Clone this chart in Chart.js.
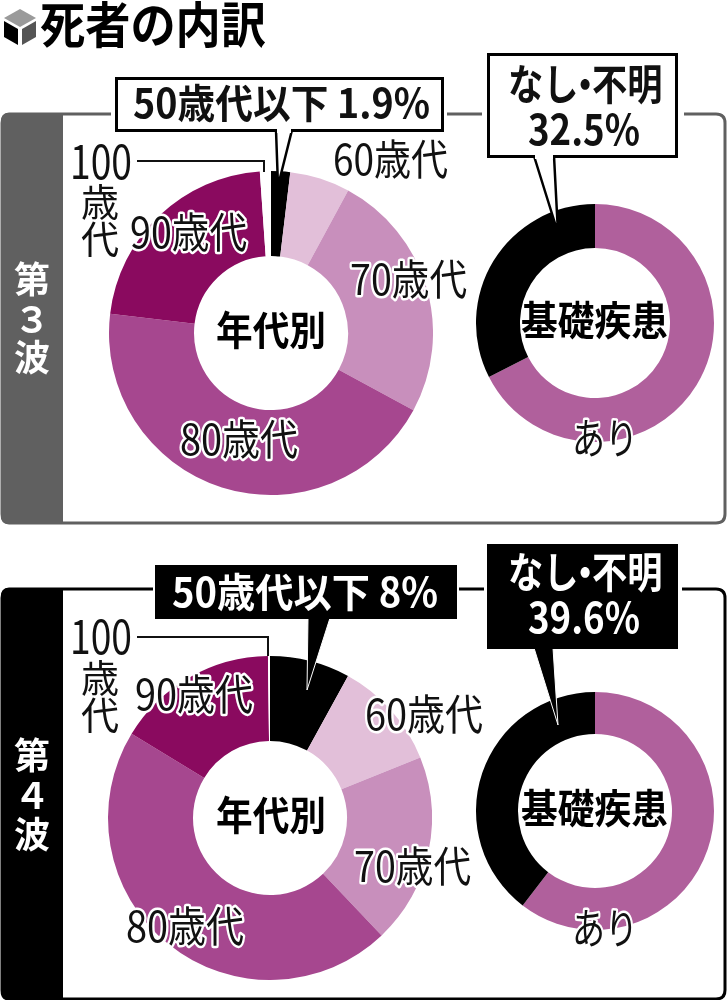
<!DOCTYPE html>
<html lang="ja"><head><meta charset="utf-8">
<script src="https://cdn.jsdelivr.net/npm/chart.js@4"></script>
<style>
html,body{margin:0;padding:0;background:#fff;width:727px;height:1000px;overflow:hidden}
canvas{position:absolute}
svg{position:absolute;left:0;top:0}
text{font-family:"Noto Sans CJK JP","Noto Sans",sans-serif;dominant-baseline:alphabetic}
.lb{font-size:42px;fill:#111;stroke:#fff;stroke-width:5px;paint-order:stroke fill;stroke-linejoin:round}
.b{font-weight:700}
.c{font-size:40px;font-weight:700;fill:#000}
</style></head><body>
<svg width="727" height="1000" viewBox="0 0 727 1000" style="z-index:0">
  <path d="M9 114H716Q725 114 725 123V514Q725 523 716 523H9Q2 523 2 514V123Q2 114 9 114Z" fill="#fff" stroke="#606060" stroke-width="3"/>
  <path d="M10 113H63V524H10Q1 524 1 515V122Q1 113 10 113Z" fill="#606060"/>
  <path d="M9 589H716Q725 589 725 598V990Q725 999 716 999H9Q2 999 2 990V598Q2 589 9 589Z" fill="#fff" stroke="#000" stroke-width="3"/>
  <path d="M10 588H63V1000H10Q1 1000 1 991V597Q1 588 10 588Z" fill="#000"/>
</svg>
<canvas id="age3" width="324" height="324" style="left:109px;top:171px;width:324px;height:324px;z-index:1"></canvas>
<canvas id="cond3" width="238" height="238" style="left:476px;top:204px;width:238px;height:238px;z-index:1"></canvas>
<canvas id="age4" width="324" height="324" style="left:108px;top:656px;width:324px;height:324px;z-index:1"></canvas>
<canvas id="cond4" width="238" height="238" style="left:476px;top:692px;width:238px;height:238px;z-index:1"></canvas>
<svg width="727" height="1000" viewBox="0 0 727 1000" style="z-index:2">
  <path d="M20 9L36 18L20 27L4 18Z" fill="#9a9a9a"/><path d="M4 21L18 29V45L4 37Z" fill="#000"/><path d="M36 21L22 29V45L36 37Z" fill="#555"/>
  <text x="40" y="43" font-size="49" class="b" textLength="226" lengthAdjust="spacingAndGlyphs">死者の内訳</text>

  <g fill="#fff" font-size="36" text-anchor="middle">
    <text x="32" y="293" class="b">第</text><text x="32" y="333" class="b">３</text><text x="32" y="371" class="b">波</text>
    <text x="32" y="769" class="b">第</text><text x="32" y="809" class="b">４</text><text x="32" y="848" class="b">波</text>
  </g>

  <text x="216" y="345" class="c" textLength="110" lengthAdjust="spacingAndGlyphs">年代別</text>
  <text x="521" y="335" class="c" textLength="147" lengthAdjust="spacingAndGlyphs">基礎疾患</text>
  <text x="216" y="830" class="c" textLength="110" lengthAdjust="spacingAndGlyphs">年代別</text>
  <text x="521" y="823" class="c" textLength="147" lengthAdjust="spacingAndGlyphs">基礎疾患</text>

  <text class="lb" x="333" y="175" textLength="115" lengthAdjust="spacingAndGlyphs">60歳代</text>
  <text class="lb" x="350" y="295" textLength="117" lengthAdjust="spacingAndGlyphs">70歳代</text>
  <text class="lb" x="180" y="455" textLength="118" lengthAdjust="spacingAndGlyphs">80歳代</text>
  <text class="lb" x="130" y="248" textLength="117" lengthAdjust="spacingAndGlyphs">90歳代</text>
  <text class="lb" x="572" y="454" textLength="66" lengthAdjust="spacingAndGlyphs">あり</text>

  <text class="lb" x="365" y="730" textLength="118" lengthAdjust="spacingAndGlyphs">60歳代</text>
  <text class="lb" x="354" y="882" textLength="117" lengthAdjust="spacingAndGlyphs">70歳代</text>
  <text class="lb" x="126" y="942" textLength="118" lengthAdjust="spacingAndGlyphs">80歳代</text>
  <text class="lb" x="135" y="710" textLength="118" lengthAdjust="spacingAndGlyphs">90歳代</text>
  <text class="lb" x="572" y="944" textLength="66" lengthAdjust="spacingAndGlyphs">あり</text>

  <path d="M137 161H264V172" fill="none" stroke="#111" stroke-width="2"/>
  <text x="70" y="179" font-size="46" fill="#111" textLength="62" lengthAdjust="spacingAndGlyphs">100</text>
  <text x="100" y="216" font-size="38" fill="#111" text-anchor="middle">歳</text>
  <text x="100" y="253" font-size="38" fill="#111" text-anchor="middle">代</text>
  <path d="M137 637H268V656" fill="none" stroke="#111" stroke-width="2"/>
  <text x="70" y="654" font-size="46" fill="#111" textLength="62" lengthAdjust="spacingAndGlyphs">100</text>
  <text x="100" y="692" font-size="38" fill="#111" text-anchor="middle">歳</text>
  <text x="100" y="729" font-size="38" fill="#111" text-anchor="middle">代</text>

  <rect x="111" y="112" width="4" height="5" fill="#fff"/>
  <rect x="444" y="112" width="3" height="5" fill="#fff"/>
  <rect x="482" y="112" width="5" height="5" fill="#fff"/>
  <rect x="678" y="112" width="6" height="5" fill="#fff"/>
  <path d="M276 130L278 186L292 130" fill="#fff" stroke="#000" stroke-width="2.500"/>
  <rect x="116.500" y="78.500" width="326" height="52" fill="#fff" stroke="#000" stroke-width="3"/>
  <path d="M277 128H291V133H277Z" fill="#fff"/>
  <text x="133" y="118" font-size="40" class="b" fill="#111" textLength="297" lengthAdjust="spacingAndGlyphs">50歳代以下 1.9%</text>
  <path d="M534 156L558 233L554 156" fill="#fff" stroke="#000" stroke-width="2.500"/>
  <rect x="488.500" y="54.500" width="188" height="102" fill="#fff" stroke="#000" stroke-width="3"/>
  <path d="M535 154H553V159H535Z" fill="#fff"/>
  <g transform="translate(508 100) scale(0.84 1)"><text font-size="42" class="b" fill="#111">なし<tspan dx="-13">・</tspan><tspan dx="-13">不明</tspan></text></g>
  <text x="528" y="145" font-size="42" class="b" fill="#111" textLength="112" lengthAdjust="spacingAndGlyphs">32.5%</text>

  <rect x="153" y="587" width="2" height="5" fill="#fff"/>
  <rect x="457" y="587" width="2" height="5" fill="#fff"/>
  <rect x="484" y="587" width="3" height="5" fill="#fff"/>
  <rect x="678" y="587" width="4" height="5" fill="#fff"/>
  <path d="M308 618L307 690L330 618Z" fill="#000" stroke="#fff" stroke-width="1"/>
  <rect x="155" y="565" width="302" height="54" fill="#000"/>
  <text x="172" y="607" font-size="40" class="b" fill="#fff" textLength="266" lengthAdjust="spacingAndGlyphs">50歳代以下 8%</text>
  <path d="M534 648L558 725L553 648Z" fill="#000" stroke="#fff" stroke-width="1"/>
  <rect x="487" y="544" width="191" height="105" fill="#000"/>
  <g transform="translate(508 588) scale(0.84 1)"><text font-size="42" class="b" fill="#fff">なし<tspan dx="-13">・</tspan><tspan dx="-13">不明</tspan></text></g>
  <text x="528" y="633" font-size="42" class="b" fill="#fff" textLength="112" lengthAdjust="spacingAndGlyphs">39.6%</text>
</svg>
<script>
const ageCategories = ["50歳代以下","60歳代","70歳代","80歳代","90歳代","100歳代"];
const conditionCategories = ["あり","なし・不明"];
const wave3Age = [1.9, 6.0, 25.0, 44.0, 22.0, 1.1];
const wave4Age = [8.0, 10.9, 19.0, 45.8, 16.1, 0.2];
const wave3Condition = [67.5, 32.5];
const wave4Condition = [60.4, 39.6];
const ageColors = ["#000000","#e2bfd9","#c88fbc","#a6478f","#8a0a5f","#ffffff"];
const conditionColors = ["#b0609c","#000000"];

function donut(id, labels, data, colors, cutoutPx){
  new Chart(document.getElementById(id), {
    type: "doughnut",
    data: { labels, datasets: [{ data, backgroundColor: colors, borderWidth: 0 }] },
    options: {
      responsive: false, animation: false, cutout: cutoutPx,
      layout: { padding: 0 },
      plugins: { legend: { display: false }, tooltip: { enabled: false } }
    }
  });
}
donut("age3", ageCategories, wave3Age, ageColors, 77);
donut("age4", ageCategories, wave4Age, ageColors, 77);
donut("cond3", conditionCategories, wave3Condition, conditionColors, 75);
donut("cond4", conditionCategories, wave4Condition, conditionColors, 77);
</script>
</body></html>
